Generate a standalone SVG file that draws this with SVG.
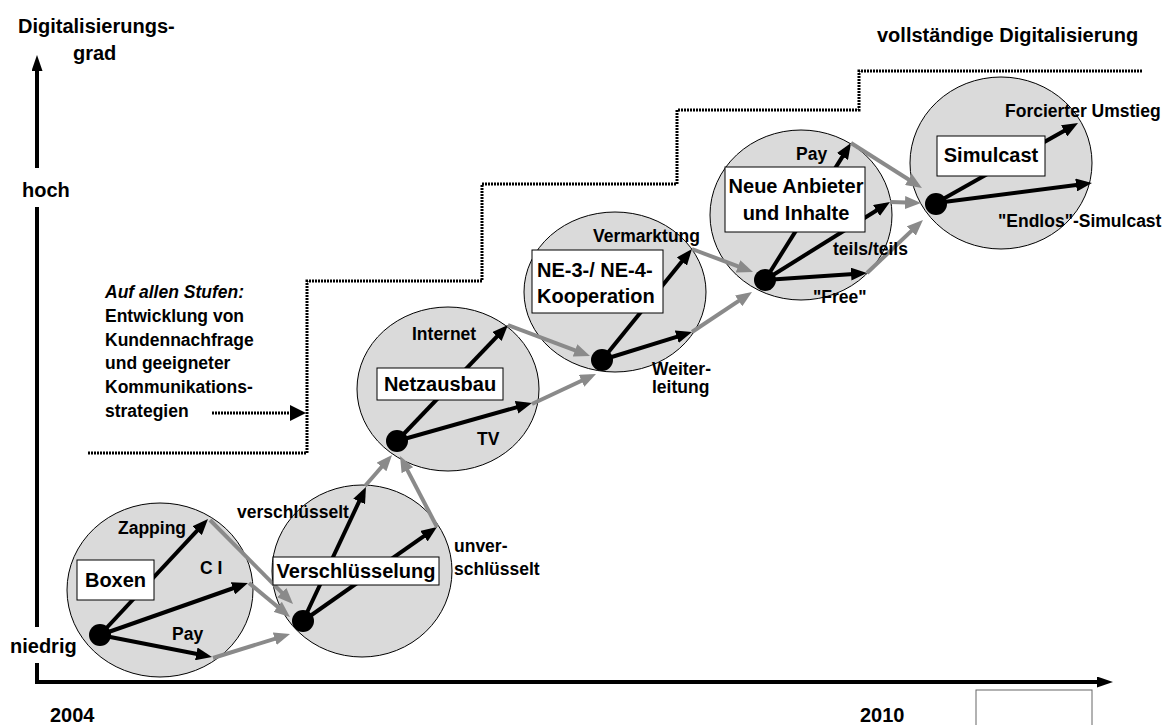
<svg xmlns="http://www.w3.org/2000/svg" width="1166" height="725" viewBox="0 0 1166 725">
<defs>
<style>
text{font-family:"Liberation Sans",Arial,sans-serif;font-weight:bold;fill:#000}
.lbl{font-size:17.5px}
.big{font-size:20px}
.stage{fill:#dadada;stroke:#000;stroke-width:1}
.box{fill:#fff;stroke:#000;stroke-width:1}
.blk{stroke:#000;stroke-width:4;fill:none;marker-end:url(#hb)}
.gry{stroke:#8a8a8a;stroke-width:4;fill:none;marker-end:url(#hg)}
.dot{fill:#000}
.dotted{stroke:#000;stroke-width:3;fill:none;stroke-dasharray:2 1}
.axis{stroke:#000;stroke-width:4;fill:none}
</style>
<marker id="hb" markerUnits="userSpaceOnUse" markerWidth="16" markerHeight="13" refX="10" refY="6.5" orient="auto"><path d="M0,0 L16,6.5 L0,13 z" fill="#000"/></marker>
<marker id="hg" markerUnits="userSpaceOnUse" markerWidth="16" markerHeight="13" refX="10" refY="6.5" orient="auto"><path d="M0,0 L16,6.5 L0,13 z" fill="#8a8a8a"/></marker>
<marker id="ha" markerUnits="userSpaceOnUse" markerWidth="16" markerHeight="11" refX="2" refY="5.5" orient="auto"><path d="M0,0 L16,5.5 L0,11 z" fill="#000"/></marker>
<marker id="hd" markerUnits="userSpaceOnUse" markerWidth="16" markerHeight="16" refX="2" refY="8" orient="auto"><path d="M0,0 L16,8 L0,16 z" fill="#000"/></marker>
</defs>
<rect width="1166" height="725" fill="#fff"/>

<g id="axes">
<path class="axis" d="M37,168 V69" marker-end="url(#ha)"/>
<path class="axis" d="M37,627 V207"/>
<path class="axis" d="M37,663 V682 H1099" marker-end="url(#ha)"/>
<text class="big" x="18" y="33">Digitalisierungs-</text>
<text class="big" x="73" y="60">grad</text>
<text class="big" x="22" y="197">hoch</text>
<text class="big" x="10" y="653">niedrig</text>
<text class="big" x="50" y="722">2004</text>
<text class="big" x="860" y="722">2010</text>
<rect x="976" y="690" width="116" height="50" fill="none" stroke="#666" stroke-width="1"/>
</g>

<g id="staircase">
<path class="dotted" d="M88,453 H307 V281 H482 V184 H677 V110 H859 V71 H1142"/>
<text class="big" x="877" y="42">vollständige Digitalisierung</text>
<path class="dotted" d="M212,413 H292" marker-end="url(#hd)"/>
</g>

<g id="note">
<text class="lbl" x="105" y="298" font-style="italic">Auf allen Stufen:</text>
<text class="lbl" x="105" y="322">Entwicklung von</text>
<text class="lbl" x="105" y="346">Kundennachfrage</text>
<text class="lbl" x="105" y="369">und geeigneter</text>
<text class="lbl" x="105" y="393">Kommunikations-</text>
<text class="lbl" x="105" y="417">strategien</text>
</g>

<g id="stages">
<ellipse id="stage1" class="stage" cx="160" cy="590" rx="93" ry="87"/>
<ellipse id="stage2" class="stage" cx="362" cy="571" rx="90" ry="86"/>
<ellipse id="stage3" class="stage" cx="448" cy="389" rx="91" ry="82"/>
<ellipse id="stage4" class="stage" cx="615" cy="292" rx="91" ry="80"/>
<ellipse id="stage5" class="stage" cx="801" cy="215" rx="91" ry="85"/>
<ellipse id="stage6" class="stage" cx="1001" cy="163" rx="91" ry="86"/>
</g>

<g id="connectors">
<line class="blk" x1="100" y1="635" x2="203.9" y2="523.4"/>
<line class="blk" x1="100" y1="635" x2="242.3" y2="585"/>
<line class="blk" x1="100" y1="635" x2="206.1" y2="655.8"/>
<line class="blk" x1="303" y1="621" x2="363.4" y2="492.4"/>
<line class="blk" x1="303" y1="621" x2="432.1" y2="530.4"/>
<line class="blk" x1="397" y1="441" x2="503.8" y2="329.3"/>
<line class="blk" x1="397" y1="441" x2="526.2" y2="404.6"/>
<line class="blk" x1="602" y1="360" x2="688.2" y2="253.7"/>
<line class="blk" x1="602" y1="360" x2="686.3" y2="333.8"/>
<line class="blk" x1="765" y1="280" x2="847.8" y2="148.1"/>
<line class="blk" x1="765" y1="280" x2="884.9" y2="205.2"/>
<line class="blk" x1="765" y1="280" x2="861" y2="273.4"/>
<line class="blk" x1="936" y1="203" x2="1072.8" y2="125.9"/>
<line class="blk" x1="936" y1="203" x2="1086" y2="183.8"/>
<line class="gry" x1="210" y1="520" x2="288.8" y2="599.7"/>
<line class="gry" x1="249" y1="583" x2="285.4" y2="613.2"/>
<line class="gry" x1="213" y1="658" x2="284.3" y2="635.8"/>
<line class="gry" x1="365" y1="486" x2="388.1" y2="459.5"/>
<line class="gry" x1="437" y1="527" x2="402.8" y2="461.3"/>
<line class="gry" x1="508" y1="325" x2="584.4" y2="353.9"/>
<line class="gry" x1="532" y1="404" x2="590.6" y2="376.5"/>
<line class="gry" x1="692" y1="249" x2="747.4" y2="269.9"/>
<line class="gry" x1="692" y1="332" x2="747" y2="295.3"/>
<line class="gry" x1="851" y1="143" x2="916.9" y2="184.8"/>
<line class="gry" x1="890" y1="202" x2="915" y2="202.8"/>
<line class="gry" x1="867" y1="273" x2="918.6" y2="224.1"/>
</g>

<g id="node-boxen">
<rect class="box" x="77" y="560" width="77" height="40"/>
<text class="big" x="115.5" y="587" text-anchor="middle">Boxen</text>
</g>
<g id="node-verschluesselung">
<rect class="box" x="273" y="557" width="166" height="28"/>
<text class="big" x="356" y="578" text-anchor="middle" font-size="19.5">Verschlüsselung</text>
</g>
<g id="node-netzausbau">
<rect class="box" x="377" y="368" width="126" height="32"/>
<text class="big" x="440" y="391" text-anchor="middle">Netzausbau</text>
</g>
<g id="node-kooperation">
<rect class="box" x="532" y="250" width="131" height="63"/>
<text class="big" x="537" y="277">NE-3-/ NE-4-</text>
<text class="big" x="537" y="303">Kooperation</text>
</g>
<g id="node-anbieter">
<rect class="box" x="725" y="167" width="140" height="65"/>
<text class="big" x="796" y="193" text-anchor="middle">Neue Anbieter</text>
<text class="big" x="796" y="220" text-anchor="middle">und Inhalte</text>
</g>
<g id="node-simulcast">
<rect class="box" x="937" y="136" width="108" height="40"/>
<text class="big" x="991" y="162" text-anchor="middle">Simulcast</text>
</g>

<g id="dots">
<circle class="dot" cx="100" cy="635" r="11"/>
<circle class="dot" cx="303" cy="621" r="11"/>
<circle class="dot" cx="397" cy="441" r="11"/>
<circle class="dot" cx="602" cy="360" r="11"/>
<circle class="dot" cx="765" cy="280" r="11"/>
<circle class="dot" cx="936" cy="204" r="11"/>
</g>

<g id="labels">
<text class="lbl" x="118" y="534">Zapping</text>
<text class="lbl" x="200" y="574">C I</text>
<text class="lbl" x="172" y="640">Pay</text>
<text class="lbl" x="237" y="518">verschlüsselt</text>
<text class="lbl" x="454" y="552">unver-</text>
<text class="lbl" x="454" y="575">schlüsselt</text>
<text class="lbl" x="412" y="340">Internet</text>
<text class="lbl" x="477" y="445">TV</text>
<text class="lbl" x="593" y="242">Vermarktung</text>
<text class="lbl" x="652" y="375">Weiter-</text>
<text class="lbl" x="652" y="393">leitung</text>
<text class="lbl" x="796" y="160">Pay</text>
<text class="lbl" x="833" y="255">teils/teils</text>
<text class="lbl" x="813" y="303">"Free"</text>
<text class="lbl" x="1005" y="117">Forcierter Umstieg</text>
<text class="lbl" x="998" y="227">"Endlos"-Simulcast</text>
</g>
</svg>
